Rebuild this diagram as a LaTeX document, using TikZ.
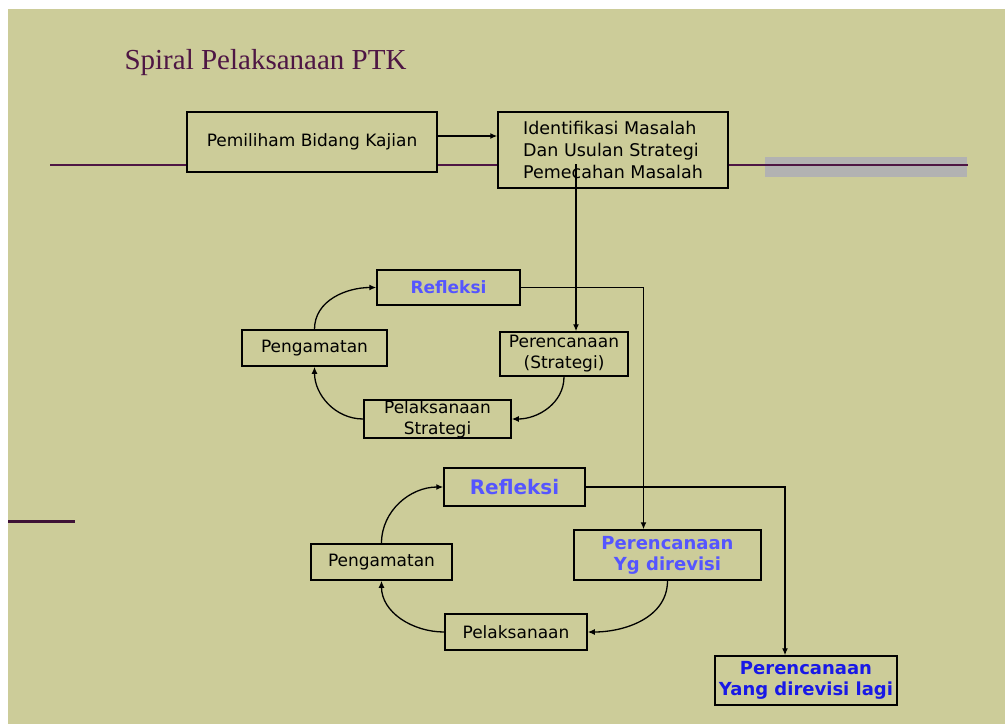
\documentclass[tikz,border=0pt]{standalone}
\usepackage{fontspec}
\setmainfont{Liberation Serif}
\setsansfont{DejaVu Sans}
\usetikzlibrary{arrows.meta}

\definecolor{khaki}{RGB}{204,204,153}
\definecolor{plum}{RGB}{78,22,68}
\definecolor{lblue}{RGB}{85,85,255}
\definecolor{dblue}{RGB}{25,25,230}

\tikzset{
  box/.style={draw,line width=1.5pt,fill=khaki,inner sep=0pt,align=center,
    font=\sffamily\fontsize{17}{21}\selectfont},
  hot/.style={font=\sffamily\bfseries\fontsize{#1}{21}\selectfont},
  lnk/.style={line width=1.3pt,-{Latex[length=7pt,width=6pt]}},
}

\begin{document}
\begin{tikzpicture}[x=1pt,y=-1pt]
\useasboundingbox (0,0) rectangle (1005,724);
\fill[khaki] (8,9) rectangle (1005,724);
\fill[black!30] (765,157) rectangle (967,177);
\draw[plum,line width=1.5pt] (50,165) -- (968,165);
\draw[plum!80!black,line width=3pt] (8,521) -- (75,521);

\node[anchor=base west,text=plum,font=\fontsize{29}{34}\selectfont] (ttl) at (121,69) {Spiral Pelaksanaan PTK};

% top row
\node[box,minimum width=250pt,minimum height=60pt] (pem) at (312,142) {Pemiliham Bidang Kajian};
\node[box,minimum width=230pt,minimum height=76pt,align=left,
  font=\sffamily\fontsize{17.5}{22}\selectfont] (iden) at (613,150)
  {Identifikasi Masalah\\Dan Usulan Strategi\\Pemecahan Masalah};

% first cycle
\node[box,minimum width=143pt,minimum height=35pt,hot=17,text=lblue] (r1) at (448.5,287.5) {Refleksi};
\node[box,minimum width=128pt,minimum height=44pt] (p1) at (564,354) {Perencanaan\\(Strategi)};
\node[box,minimum width=145pt,minimum height=36pt] (g1) at (314.5,348) {Pengamatan};
\node[box,minimum width=147pt,minimum height=38pt] (l1) at (437.5,419) {Pelaksanaan\\Strategi};

% second cycle
\node[box,minimum width=141pt,minimum height=38pt,hot=20,text=lblue] (r2) at (514.5,487) {Refleksi};
\node[box,minimum width=187pt,minimum height=50pt,hot=18,text=lblue] (p2) at (667.5,555) {Perencanaan\\Yg direvisi};
\node[box,minimum width=141pt,minimum height=36pt] (g2) at (381.5,562) {Pengamatan};
\node[box,minimum width=142pt,minimum height=36pt] (l2) at (516,632) {Pelaksanaan};

\node[box,minimum width=182pt,minimum height=49pt,hot=18,text=dblue] (p3) at (806,680.5) {Perencanaan\\Yang direvisi lagi};

% connectors
\coordinate (pa) at ([yshift=6pt]pem.east);
\draw[lnk] (pa) -- (pa -| iden.west);
\coordinate (ia) at ([xshift=-37pt,yshift=-14pt]iden.center);
\draw[lnk] (ia) -- (ia |- p1.north);
\draw[lnk] (r1.east) -| ([xshift=-24pt]p2.north);
\draw[lnk] (r2.east) -| ([xshift=-21pt]p3.north);

\draw[lnk] (p1.south) to[out=-90,in=0] (l1.east);
\draw[lnk] (l1.west) to[out=180,in=-90] (g1.south);
\draw[lnk] (g1.north) to[out=90,in=180] (r1.west);

\draw[lnk] (p2.south) to[out=-90,in=0] (l2.east);
\draw[lnk] (l2.west) to[out=180,in=-90] (g2.south);
\draw[lnk] (g2.north) to[out=90,in=180] (r2.west);
\end{tikzpicture}
\end{document}
